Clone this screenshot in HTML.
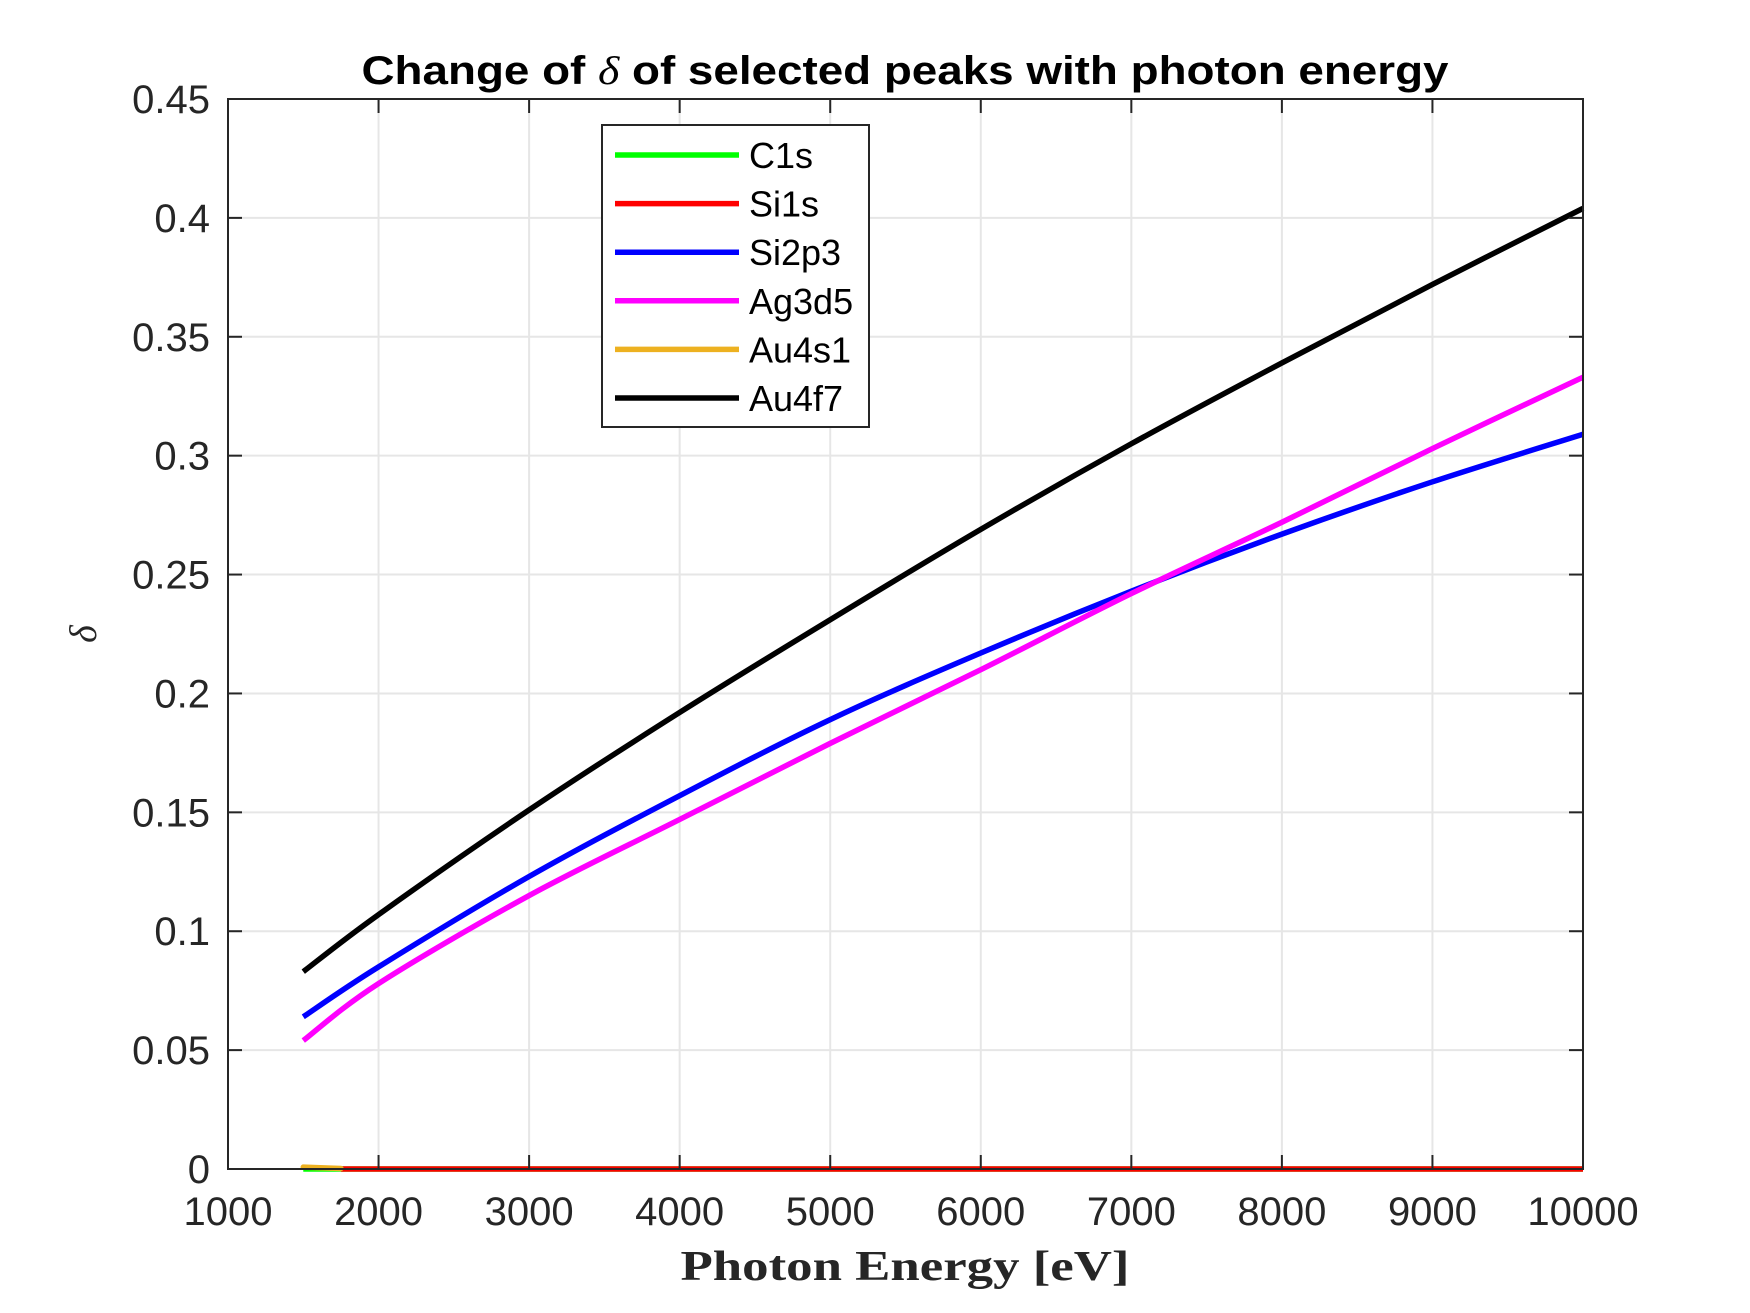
<!DOCTYPE html>
<html><head><meta charset="utf-8"><style>
html,body{margin:0;padding:0;background:#fff;}
svg{display:block;}
text{font-family:"Liberation Sans",sans-serif;fill:#262626;}
</style></head><body>
<svg id="chart" width="1750" height="1313" viewBox="0 0 1750 1313" xmlns="http://www.w3.org/2000/svg">
<rect width="1750" height="1313" fill="#fff"/>
<g id="grid"></g>
<g id="series"></g>
<g id="axes"></g>
<text x="905" y="84" text-anchor="middle" font-size="40" font-weight="bold" style="fill:#000" textLength="1087" lengthAdjust="spacingAndGlyphs">Change of <tspan font-family="Liberation Serif" font-style="italic" font-weight="normal">δ</tspan> of selected peaks with photon energy</text>
<text x="905" y="1280" text-anchor="middle" font-size="42" font-weight="bold" style="font-family:'Liberation Serif',serif" textLength="449" lengthAdjust="spacingAndGlyphs">Photon Energy [eV]</text>
<text transform="translate(96,634) rotate(-90)" text-anchor="middle" font-size="38" font-style="italic" style="font-family:'Liberation Serif',serif">δ</text>
<g id="legend"></g>
</svg>
<script>
const xTicks=[1000,2000,3000,4000,5000,6000,7000,8000,9000,10000];
const yTicks=[0,0.05,0.1,0.15,0.2,0.25,0.3,0.35,0.4,0.45];
const yTickLabels=["0","0.05","0.1","0.15","0.2","0.25","0.3","0.35","0.4","0.45"];
const energies=[1500,2000,3000,4000,5000,6000,7000,8000,9000,10000];
const au4f7=[0.083,0.107,0.151,0.192,0.231,0.269,0.305,0.339,0.372,0.404];
const si2p3=[0.064,0.085,0.123,0.157,0.189,0.217,0.243,0.267,0.289,0.309];
const ag3d5=[0.054,0.078,0.115,0.147,0.179,0.210,0.242,0.272,0.303,0.333];
const c1sE=[1500,10000]; const c1s=[0,0];
const si1sE=[1750,10000]; const si1s=[0,0];
const au4s1E=[1500,1750]; const au4s1=[0.0008,0.0002];
const names=["C1s","Si1s","Si2p3","Ag3d5","Au4s1","Au4f7"];
const colors=["#00ff00","#ff0000","#0000ff","#ff00ff","#edb120","#000000"];

const L=228,R=1583,T=99,B=1169;
const xs=v=>L+(v-1000)/9000*(R-L);
const ys=v=>B-v/0.45*(B-T);
const NS="http://www.w3.org/2000/svg";
function mk(tag,attrs,parent){const e=document.createElementNS(NS,tag);for(const k in attrs)e.setAttribute(k,attrs[k]);parent.appendChild(e);return e;}
const grid=document.getElementById('grid'),axes=document.getElementById('axes'),ser=document.getElementById('series'),leg=document.getElementById('legend');

xTicks.forEach((t,i)=>{const x=xs(t);
 if(i>0&&i<xTicks.length-1){const g=mk('line',{x1:x,x2:x,y1:T,y2:B,stroke:'#e6e6e6','stroke-width':2},grid);
 
 
 mk('line',{x1:x,x2:x,y1:B,y2:B-14,stroke:'#262626','stroke-width':2},axes);
 mk('line',{x1:x,x2:x,y1:T,y2:T+14,stroke:'#262626','stroke-width':2},axes);}
 const tx=mk('text',{x:x,y:1225,'text-anchor':'middle','font-size':40},axes);tx.textContent=t;
 
 
});
yTicks.forEach((t,i)=>{const y=ys(t);
 if(i>0&&i<yTicks.length-1){const g=mk('line',{x1:L,x2:R,y1:y,y2:y,stroke:'#e6e6e6','stroke-width':2},grid);
 
 
 mk('line',{x1:L,x2:L+14,y1:y,y2:y,stroke:'#262626','stroke-width':2},axes);
 mk('line',{x1:R,x2:R-14,y1:y,y2:y,stroke:'#262626','stroke-width':2},axes);}
 const tx=mk('text',{x:210,y:y+14,'text-anchor':'end','font-size':40},axes);tx.textContent=yTickLabels[i];
 
 
});
const frame=mk('rect',{x:L,y:T,width:R-L,height:B-T,fill:'none',stroke:'#262626','stroke-width':2},axes);



function smooth(E,V){const p=E.map((e,i)=>[xs(e),ys(V[i])]);
 if(p.length<3)return 'M'+p.map(q=>q.join(',')).join(' L');
 let d='M'+p[0][0]+','+p[0][1];
 for(let i=0;i<p.length-1;i++){const p0=p[i-1]||p[i],p1=p[i],p2=p[i+1],p3=p[i+2]||p2;
  const c1=[p1[0]+(p2[0]-p0[0])/6,p1[1]+(p2[1]-p0[1])/6],c2=[p2[0]-(p3[0]-p1[0])/6,p2[1]-(p3[1]-p1[1])/6];
  d+=` C${c1[0]},${c1[1]} ${c2[0]},${c2[1]} ${p2[0]},${p2[1]}`;}
 return d;}
const seriesData=[[c1sE,c1s],[si1sE,si1s],[energies,si2p3],[energies,ag3d5],[au4s1E,au4s1],[energies,au4f7]];
seriesData.forEach((s,i)=>{const p=mk('path',{d:smooth(s[0],s[1]),fill:'none',stroke:colors[i],'stroke-width':5.5,'stroke-linejoin':'round','stroke-linecap':(i===4?'round':'butt')},ser);
 
 
});

const box=mk('rect',{x:602,y:125,width:267,height:302,fill:'#fff',stroke:'#262626','stroke-width':2},leg);


names.forEach((n,i)=>{const y=155+i*48.6;
 const g=mk('g',{},leg);
 
 
 mk('line',{x1:615,x2:739,y1:y,y2:y,stroke:colors[i],'stroke-width':5.5},g);
 const t=mk('text',{x:749,y:y+13,'font-size':36,style:'fill:#000'},g);t.textContent=n;
});
</script>
</body></html>
